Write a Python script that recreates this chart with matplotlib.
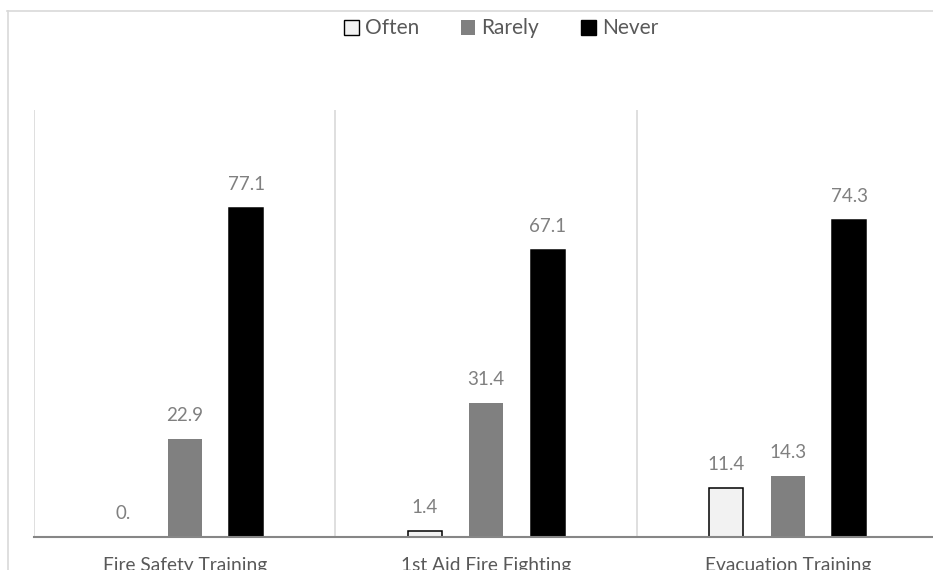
import matplotlib
matplotlib.use("Agg")
import numpy as np
import matplotlib.pyplot as plt
from matplotlib.lines import Line2D
from matplotlib.patches import Patch

plt.rcParams['font.family'] = ['Lato', 'DejaVu Sans']

categories = ['Fire Safety Training', '1st Aid Fire Fighting', 'Evacuation Training']
series = ['Often', 'Rarely', 'Never']
often = [0.0, 1.4, 11.4]
rarely = [22.9, 31.4, 14.3]
never = [77.1, 67.1, 74.3]

fills = ['#f2f2f2', '#808080', '#000000']
edges = ['#000000', '#808080', '#000000']

W, H = 933, 570
fig = plt.figure(figsize=(W / 100, H / 100), dpi=100)
fig.patch.set_facecolor('white')

# plot area in pixels: left 34, top 110, axis at 537, right edge runs off the image
left, top, bottom, right = 34, 110, 537, 938.5
ax = fig.add_axes([left / W, (H - bottom) / H, (right - left) / W, (bottom - top) / H])

x = np.arange(len(categories))
width = 0.114
step = 0.204

for i, (name, vals) in enumerate(zip(series, [often, rarely, never])):
    pos = x + (i - 1) * step
    lws = [1.1 if (i != 1 and v > 0) else 0 for v in vals]
    ax.bar(pos, vals, width, color=fills[i], edgecolor=edges[i], linewidth=lws, zorder=2)
    for px, v in zip(pos, vals):
        txt = '0.' if v == 0 else f'{v:.1f}'
        ax.annotate(txt, (px, v), xytext=(0, 17), textcoords='offset points',
                    ha='center', va='center', fontsize=13.5, color='#808080')

ax.set_xlim(-0.5, 2.5)
ax.set_ylim(0, 100)
ax.vlines([-0.5, 0.5, 1.5], 0, 100, colors='#d9d9d9', linewidth=1.2, zorder=1)

for s in ['top', 'right', 'left']:
    ax.spines[s].set_visible(False)
ax.spines['bottom'].set_color('#868686')
ax.spines['bottom'].set_linewidth(1.5)
ax.spines['bottom'].set_zorder(3)
ax.set_yticks([])
ax.set_xticks(x)
ax.set_xticklabels(categories, fontsize=13.8, color='#595959')
ax.tick_params(axis='x', length=0, pad=14.5)

# chart frame
fig.add_artist(Line2D([7 / W, 1], [1 - 10.5 / H, 1 - 10.5 / H], color='#d9d9d9', linewidth=1.2))
fig.add_artist(Line2D([8 / W, 8 / W], [0, 1 - 10.5 / H], color='#d9d9d9', linewidth=1.2))

handles = [Patch(facecolor=fills[i], edgecolor=edges[i], linewidth=1.0 if i != 1 else 0)
           for i in range(3)]
leg = fig.legend(handles, series, loc='center', bbox_to_anchor=(501 / W, 1 - 28.5 / H),
                 ncol=3, frameon=False, fontsize=15, handlelength=0.7, handleheight=0.7,
                 handletextpad=0.3, columnspacing=2.0)
for t in leg.get_texts():
    t.set_color('#595959')

fig.savefig('out.png', dpi=100)
